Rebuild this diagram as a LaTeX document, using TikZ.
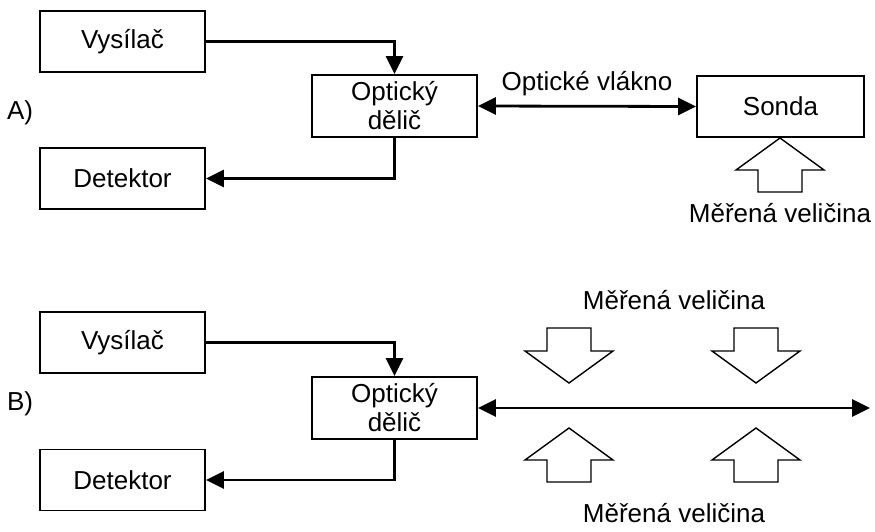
\documentclass[tikz,border=0pt]{standalone}
\usepackage{fontspec}
\setmainfont{Liberation Sans}
\usetikzlibrary{arrows.meta}

\tikzset{
  block/.style={draw, line width=1.8pt, minimum width=165pt, minimum height=61pt,
                inner sep=0pt, align=center, font=\fontsize{26}{29}\selectfont},
  label/.style={inner sep=0pt, font=\fontsize{26}{29}\selectfont},
  link/.style={line width=2.8pt, -{Triangle[length=18pt,width=17pt]}},
  dlink/.style={line width=2.8pt, {Triangle[length=18pt,width=17pt]}-{Triangle[length=18pt,width=17pt]}},
  hollowup/.pic={\draw[line width=1.4pt, line join=miter]
      (0,0) -- (44,32) -- (22,32) -- (22,54) -- (-22,54) -- (-22,32) -- (-44,32) -- cycle;},
  hollowdown/.pic={\draw[line width=1.4pt, line join=miter]
      (0,0) -- (44,-32) -- (22,-32) -- (22,-55) -- (-22,-55) -- (-22,-32) -- (-44,-32) -- cycle;}
}

\begin{document}
\begin{tikzpicture}[x=1pt,y=-1pt]
\useasboundingbox (0,0) rectangle (875,531);

% ---- A) point probe ----
\node[label] (la) at (20,113) {A)};
\node[block] (vyA) at (122.5,41.5) {Vysílač};
\node[block, minimum height=62pt] (deA) at (394.5,106) {Optický\\dělič};
\node[block] (detA) at (122.5,178.5) {Detektor};
\node[block, minimum width=167pt] (so) at (780.5,106.5) {Sonda};

\draw[link] (vyA.east) -| (deA.north);
\draw[link] (deA.south) |- (detA.east);
\draw[dlink] (deA.east) -- (so.west)
  node[label, midway, above=9pt] (fib) {Optické vlákno};

\pic at (780,138) {hollowup};
\node[label] (mA) at (780,213) {Měřená veličina};

% ---- B) distributed sensing ----
\node[label] (lb) at (20,404) {B)};
\node[block] (vyB) at (122.5,342.5) {Vysílač};
\node[block, minimum height=62pt] (deB) at (394.5,408) {Optický\\dělič};
\node[block] (detB) at (122.5,480) {Detektor};
\coordinate (fend) at (870,408);

\draw[link] (vyB.east) -| (deB.north);
\draw[link] (deB.south) |- (detB.east);
\draw[dlink] (deB.east) -- (fend);

\pic at (569,383) {hollowdown};
\pic at (756,383) {hollowdown};
\pic at (569,428) {hollowup};
\pic at (756,428) {hollowup};

\node[label] (mB1) at (674,300) {Měřená veličina};
\node[label] (mB2) at (674,513) {Měřená veličina};
\end{tikzpicture}
\end{document}
